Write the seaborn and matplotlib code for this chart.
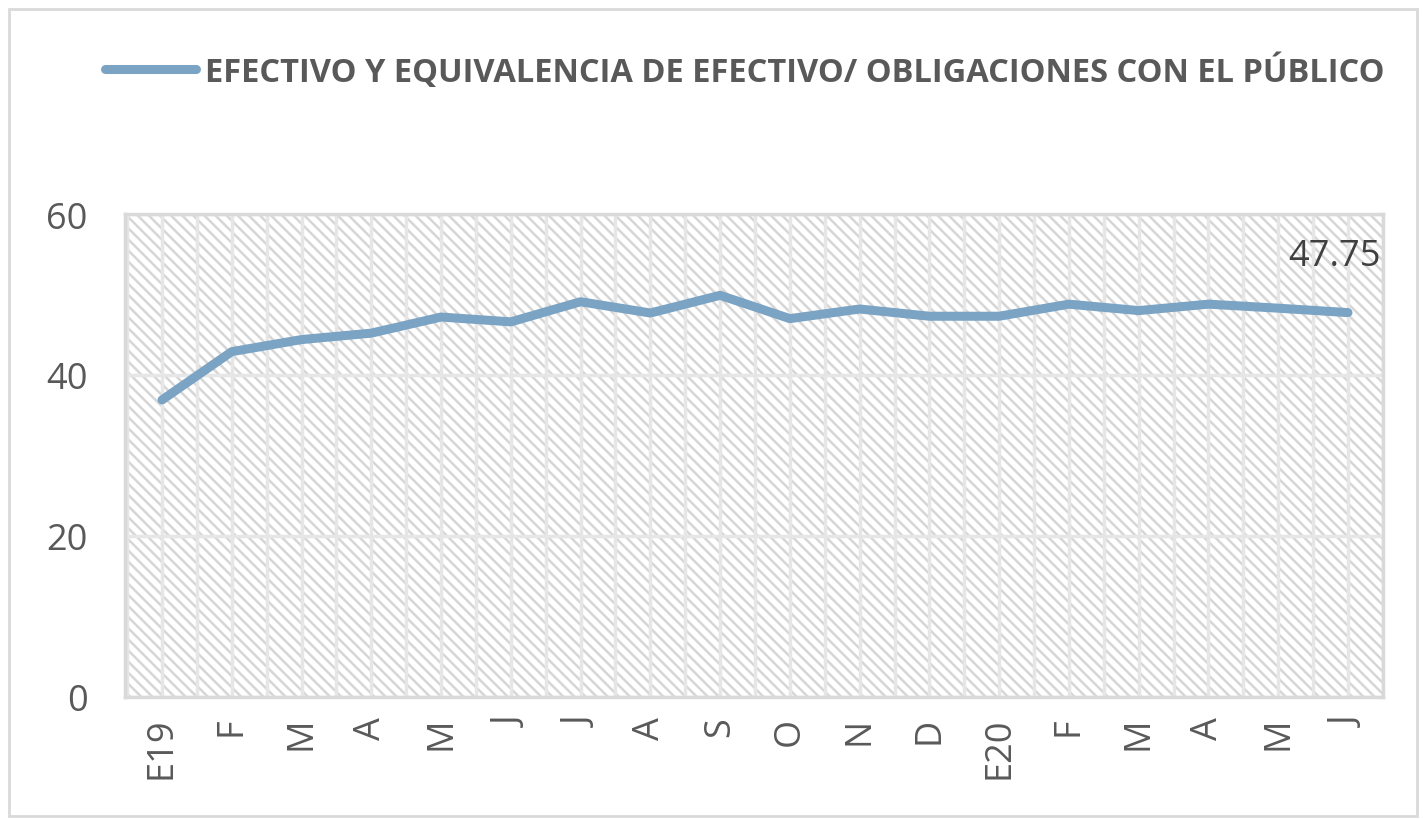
import numpy as np
import pandas as pd
import seaborn as sns
import matplotlib.pyplot as plt
from matplotlib.patches import Rectangle
from matplotlib.ticker import FixedLocator

months = ["E19", "F", "M", "A", "M", "J", "J", "A", "S", "O", "N", "D",
          "E20", "F", "M", "A", "M", "J"]
ratio = [36.9, 42.9, 44.4, 45.2, 47.2, 46.6, 49.1, 47.7, 49.9, 47.0,
         48.2, 47.3, 47.3, 48.8, 48.0, 48.8, 48.3, 47.75]
series_name = "EFECTIVO Y EQUIVALENCIA DE EFECTIVO/ OBLIGACIONES CON EL PÚBLICO"
last_label = "47.75"
yticks = [0, 20, 40, 60]

sns.set_theme(style="white")
plt.rcParams['font.family'] = ['Open Sans', 'DejaVu Sans']
plt.rcParams['hatch.color'] = '#d6d6d6'
plt.rcParams['hatch.linewidth'] = 1.8

df = pd.DataFrame({"pos": np.arange(len(months)), "ratio": ratio, "serie": series_name})

fig = plt.figure(figsize=(14.27, 8.2), dpi=100)
ax = fig.add_axes([0.0876, 0.1488, 0.8815, 0.589])

# hatched plot background
ax.patch.set_facecolor('white')
ax.patch.set_hatch('\\\\\\')
ax.patch.set_edgecolor('#d6d6d6')

sns.lineplot(data=df, x="pos", y="ratio", hue="serie", palette=['#7ba3c3'],
             linewidth=6.5, ax=ax, legend=False, solid_capstyle='round', zorder=3)

ax.set_xlim(-0.53, len(months) - 0.5)
ax.set_ylim(0, 60)
ax.set_xticks(range(len(months)))
ax.set_xticklabels(months, rotation=90, color='#595959', fontsize=26)
ax.xaxis.set_minor_locator(FixedLocator(np.arange(-0.5, len(months), 1.0)))
ax.set_yticks(yticks)
ax.set_yticklabels([str(v) for v in yticks], color='#595959', fontsize=26)
ax.tick_params(axis='both', which='both', length=0)
ax.tick_params(axis='x', pad=14)
ax.tick_params(axis='y', pad=27)
ax.grid(True, which='both', axis='x', color='#e6e6e6', linewidth=2.5, zorder=1)
ax.grid(True, which='major', axis='y', color='#e6e6e6', linewidth=2.5, zorder=1)
ax.set_axisbelow(True)
for s in ax.spines.values():
    s.set_color('#d9d9d9')
    s.set_linewidth(2.5)
ax.set_xlabel("")
ax.set_ylabel("")

ax.annotate(last_label, xy=(len(months) - 1, ratio[-1]), xytext=(-10, 41),
            textcoords='offset points', ha='center', va='center',
            fontsize=26, color='#404040')

# legend at top
ax.plot([], [], color='#7ba3c3', linewidth=6.5, solid_capstyle='round', label=series_name)
leg = fig.legend(loc='center left', bbox_to_anchor=(0.053, 0.912), frameon=False,
                 handlelength=2.8, handletextpad=0.25,
                 prop={'weight': 'bold', 'size': 23.5})
for t in leg.get_texts():
    t.set_color('#595959')

fig.patches.append(Rectangle((0.006, 0.004), 0.987, 0.984, transform=fig.transFigure,
                             fill=False, edgecolor='#d9d9d9', linewidth=2))

fig.savefig("out.png", dpi=100)
